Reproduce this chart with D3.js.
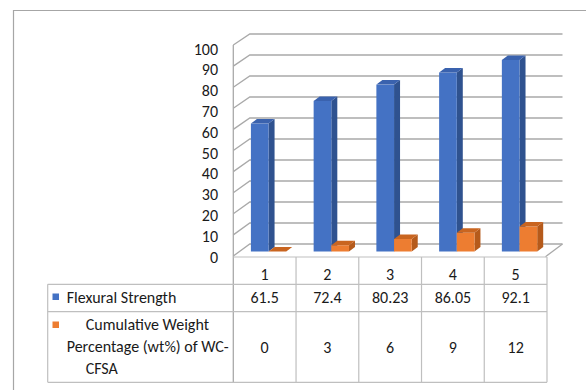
<!DOCTYPE html>
<html>
<head>
<meta charset="utf-8">
<script src="https://cdn.jsdelivr.net/npm/d3@7"></script>
<style>
  html, body { margin: 0; padding: 0; background: #fff; }
  svg { display: block; }
  text { font-family: Carlito, Calibri, Lato, "Liberation Sans", sans-serif; fill: #1a1a1a; }
</style>
</head>
<body>
<svg id="chart" width="586" height="390"></svg>
<script>
// Chart data
const categories = ["1", "2", "3", "4", "5"];
const flexuralStrength = [61.5, 72.4, 80.23, 86.05, 92.1];
const cumulativeWeight = [0, 3, 6, 9, 12];
const seriesNames = ["Flexural Strength", "Cumulative Weight Percentage (wt%) of WC-CFSA"];
const seriesLabelLines = [["Flexural Strength"], ["Cumulative Weight", "Percentage (wt%) of WC-", "CFSA"]];
const tableValueLabels = [["61.5", "72.4", "80.23", "86.05", "92.1"], ["0", "3", "6", "9", "12"]];
const yTicks = [0, 10, 20, 30, 40, 50, 60, 70, 80, 90, 100];

const seriesData = [flexuralStrength, cumulativeWeight];
const colors = [
  { front: "#4472C4", side: "#2F528F", top: "#3A62AE" },
  { front: "#ED7D31", side: "#B55A1B", top: "#C96520" }
];
const fontSize = "16px";

const svg = d3.select("#chart");

// Outer frame
svg.append("path")
  .attr("d", "M13.5,390 L13.5,10.5 L586,10.5")
  .attr("fill", "none").attr("stroke", "#a6a6a6").attr("stroke-width", 1.2);

// Geometry of the 3D box
const left = 233.3, right = 547;
const depthX = 16.5;
const yFront = d3.scaleLinear().domain([0, 100]).range([256, 45]);
const yBack = d3.scaleLinear().domain([0, 100]).range([244, 34]);
const yLabel = d3.scaleLinear().domain([0, 100]).range([257, 49]);
const yBar = d3.scaleLinear().domain([0, 100]).range([251.5, 43.5]);

const x0 = d3.scaleBand().domain(categories).range([left, right]).padding(0);
const groupPad = 13.7;
const x1 = d3.scaleBand().domain([0, 1]).range([groupPad, x0.bandwidth() - groupPad]).padding(0);
const barShiftX = 3.9;
const barDepthX = 6, barDepthY = -4.5;

const gridColor = "#a9a9a9";

// Walls: gridlines on the side and back walls
const grid = svg.append("g");
yTicks.forEach(v => {
  grid.append("path")
    .attr("d", `M${left},${yFront(v)} L${left + depthX},${yBack(v)} L${right + depthX - 1},${yBack(v)}`)
    .attr("fill", "none").attr("stroke", gridColor).attr("stroke-width", 1.3);
});
// Floor right edge
grid.append("path")
  .attr("d", `M${right - 1.5},${yFront(0) + 0.7} L${right + depthX - 1},${yBack(0)}`)
  .attr("fill", "none").attr("stroke", gridColor).attr("stroke-width", 1.3);
// Side wall front edge (continues down as the table's first column line)
grid.append("line")
  .attr("x1", left).attr("x2", left).attr("y1", yFront(100)).attr("y2", 382.3)
  .attr("stroke", gridColor).attr("stroke-width", 1.3);

// Y-axis labels
svg.append("g").selectAll("text").data(yTicks).join("text")
  .attr("x", 218).attr("y", d => yLabel(d))
  .attr("text-anchor", "end").attr("dominant-baseline", "central")
  .style("font-size", fontSize)
  .text(d => d);

// 3D columns
const bars = svg.append("g");
categories.forEach((c, i) => {
  seriesData.forEach((vals, s) => {
    const v = vals[i];
    const xL = x0(c) + x1(s) + barShiftX;
    const w = x1.bandwidth();
    const yT = yBar(v), yB = yBar(0);
    const col = colors[s];
    // side face
    bars.append("path")
      .attr("d", `M${xL + w},${yT} L${xL + w + barDepthX},${yT + barDepthY} L${xL + w + barDepthX},${yB + barDepthY} L${xL + w},${yB} Z`)
      .attr("fill", col.side);
    // front face
    bars.append("rect")
      .attr("x", xL).attr("y", yT).attr("width", w).attr("height", yB - yT)
      .attr("fill", col.front);
    // top face
    bars.append("path")
      .attr("d", `M${xL},${yT} L${xL + barDepthX},${yT + barDepthY} L${xL + w + barDepthX},${yT + barDepthY} L${xL + w},${yT} Z`)
      .attr("fill", col.top);
  });
});

// Data table
const tableColor = "#bfbfbf";
const tableLeft = 47.7;
const rowY = [257, 284.3, 311.7, 382.3];
const table = svg.append("g").attr("stroke", tableColor).attr("stroke-width", 1.2);
table.append("line").attr("x1", left).attr("x2", right).attr("y1", rowY[0]).attr("y2", rowY[0]);
rowY.slice(1).forEach(y => {
  table.append("line").attr("x1", tableLeft).attr("x2", right).attr("y1", y).attr("y2", y);
});
table.append("line").attr("x1", tableLeft).attr("x2", tableLeft).attr("y1", rowY[1]).attr("y2", rowY[3]);
categories.forEach(c => {
  const xr = x0(c) + x0.bandwidth();
  table.append("line").attr("x1", xr).attr("x2", xr).attr("y1", rowY[0]).attr("y2", rowY[3]);
});

// Category header row
svg.append("g").selectAll("text").data(categories).join("text")
  .attr("x", d => x0(d) + x0.bandwidth() / 2).attr("y", 274)
  .attr("text-anchor", "middle").attr("dominant-baseline", "central")
  .style("font-size", fontSize)
  .text(d => d);

// Value rows
const rowCenters = [297.5, 347.3];
tableValueLabels.forEach((labels, s) => {
  svg.append("g").selectAll("text").data(labels).join("text")
    .attr("x", (d, i) => x0(categories[i]) + x0.bandwidth() / 2).attr("y", rowCenters[s])
    .attr("text-anchor", "middle").attr("dominant-baseline", "central")
    .style("font-size", fontSize)
    .text(d => d);
});

// Legend keys and series names
const keyY = [293.5, 321.5];
seriesNames.forEach((n, s) => {
  svg.append("rect").attr("x", 52.5).attr("y", keyY[s]).attr("width", 6.5).attr("height", 6.5)
    .attr("fill", colors[s].front);
});
svg.append("text").attr("x", 66.7).attr("y", 297.5).attr("dominant-baseline", "central")
  .style("font-size", fontSize).text(seriesLabelLines[0][0]);
const lineX = [85.7, 66.7, 85.7];
const lineY = [324.5, 346.7, 368.8];
seriesLabelLines[1].forEach((t, k) => {
  svg.append("text").attr("x", lineX[k]).attr("y", lineY[k]).attr("dominant-baseline", "central")
    .style("font-size", fontSize).text(t);
});
</script>
</body>
</html>
